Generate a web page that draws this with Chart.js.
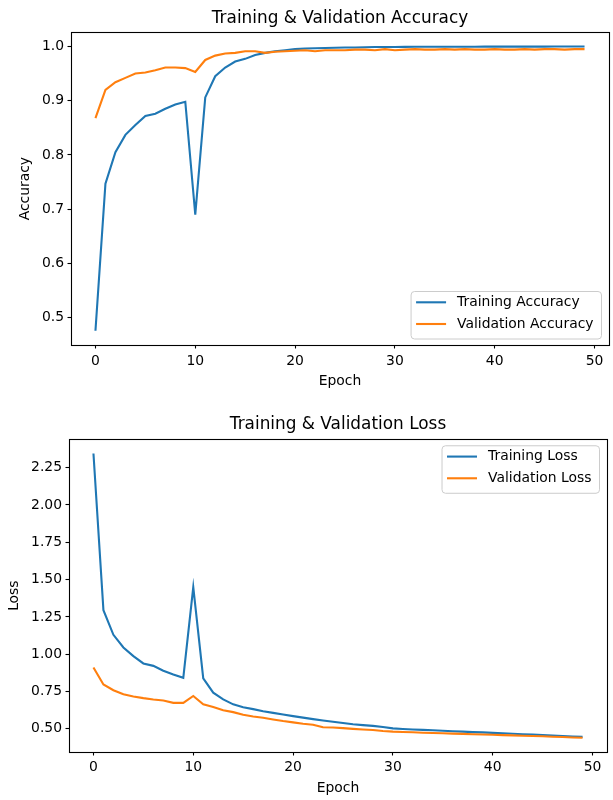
<!DOCTYPE html>
<html><head><meta charset="utf-8">
<script src="https://cdn.jsdelivr.net/npm/chart.js@4.4.1/dist/chart.umd.min.js"></script>
<style>
html,body{margin:0;padding:0;background:#fff;}
#wrap{position:relative;width:613px;height:800px;background:#fff;}
.box{position:absolute;left:0;width:613px;height:400px;}
canvas{display:block;}
</style></head><body>
<div id="wrap">
<div class="box" style="top:0"><canvas id="c1" width="613" height="400"></canvas></div>
<div class="box" style="top:400px"><canvas id="c2" width="613" height="400"></canvas></div>
</div>
<script>
// ---- data ----
const epochs = [0,1,2,3,4,5,6,7,8,9,10,11,12,13,14,15,16,17,18,19,20,21,22,23,24,25,26,27,28,29,30,31,32,33,34,35,36,37,38,39,40,41,42,43,44,45,46,47,48,49];
const trainAcc = [0.476,0.747,0.805,0.837,0.855,0.872,0.876,0.885,0.893,0.898,0.690,0.906,0.945,0.961,0.972,0.977,0.984,0.988,0.991,0.993,0.995,0.996,0.9965,0.997,0.9975,0.998,0.998,0.9985,0.9988,0.999,0.999,0.9991,0.9992,0.9992,0.9993,0.9993,0.9994,0.9994,0.9994,0.9995,0.9995,0.9995,0.9996,0.9996,0.9996,0.9996,0.9997,0.9997,0.9997,0.9998];
const valAcc = [0.868,0.920,0.934,0.942,0.950,0.952,0.956,0.961,0.961,0.960,0.953,0.975,0.983,0.987,0.988,0.991,0.991,0.988,0.990,0.991,0.992,0.993,0.991,0.993,0.993,0.993,0.994,0.994,0.993,0.995,0.993,0.994,0.995,0.994,0.994,0.995,0.994,0.995,0.994,0.994,0.995,0.994,0.994,0.995,0.994,0.995,0.995,0.994,0.995,0.995];
const trainLoss = [2.345,1.295,1.130,1.045,0.987,0.938,0.922,0.889,0.864,0.842,1.450,0.838,0.742,0.697,0.664,0.645,0.632,0.618,0.607,0.596,0.585,0.575,0.565,0.556,0.547,0.539,0.531,0.525,0.520,0.512,0.503,0.499,0.496,0.493,0.490,0.487,0.484,0.481,0.478,0.476,0.473,0.470,0.467,0.464,0.461,0.458,0.455,0.452,0.449,0.446];
const valLoss = [0.911,0.797,0.759,0.732,0.717,0.706,0.697,0.690,0.674,0.674,0.720,0.665,0.647,0.625,0.612,0.594,0.583,0.574,0.563,0.552,0.543,0.534,0.527,0.511,0.509,0.505,0.500,0.496,0.492,0.485,0.481,0.479,0.477,0.474,0.472,0.470,0.468,0.466,0.464,0.462,0.460,0.458,0.456,0.454,0.452,0.450,0.447,0.445,0.442,0.440];
const xTicks = [0,10,20,30,40,50];
const accTicks = [0.5,0.6,0.7,0.8,0.9,1.0];
const lossTicks = [0.5,0.75,1.0,1.25,1.5,1.75,2.0,2.25];

const BLUE = '#1f77b4', ORANGE = '#ff7f0e';
const FAM = '"DejaVu Sans", sans-serif';
const FS = 13.9;
Chart.defaults.font.family = FAM;

function margin(arrs){
  const all = [].concat(...arrs);
  const mn = Math.min(...all), mx = Math.max(...all);
  const m = (mx - mn) * 0.05;
  return [mn - m, mx + m];
}
const xr = margin([epochs]);

const frame = {
  id:'frame',
  afterDatasetsDraw(chart){
    const {ctx, chartArea:ca} = chart;
    ctx.save();
    ctx.strokeStyle = '#000';
    ctx.lineWidth = 1.1;
    ctx.strokeRect(Math.round(ca.left)+0.5, Math.round(ca.top)+0.5, Math.round(ca.right-ca.left), Math.round(ca.bottom-ca.top));
    ctx.restore();
  }
};

const mplLegend = {
  id:'mplLegend',
  afterDraw(chart, args, opts){
    const {ctx, chartArea:ca} = chart;
    ctx.save();
    ctx.font = FS + 'px ' + FAM;
    const items = chart.data.datasets.map(d => ({label:d.label, color:d.borderColor}));
    const tw = Math.max(...items.map(i => ctx.measureText(i.label).width));
    const w = 5 + 30 + 11 + tw + 8;
    const h = 47.5;
    const x = ca.right - 7.5 - w;
    const y = opts.corner === 'lower' ? ca.bottom - 6 - h : ca.top + 6.5;
    ctx.beginPath();
    ctx.roundRect(x, y, w, h, 3.5);
    ctx.fillStyle = 'rgba(255,255,255,0.8)';
    ctx.fill();
    ctx.strokeStyle = '#cccccc';
    ctx.lineWidth = 1;
    ctx.stroke();
    items.forEach((it, i) => {
      const ly = y + 10.8 + i * 21.7;
      ctx.beginPath();
      ctx.moveTo(x + 5, ly);
      ctx.lineTo(x + 35, ly);
      ctx.strokeStyle = it.color;
      ctx.lineWidth = 2.1;
      ctx.stroke();
      ctx.fillStyle = '#000';
      ctx.textBaseline = 'middle';
      ctx.textAlign = 'left';
      ctx.fillText(it.label, x + 46, ly);
    });
    ctx.restore();
  }
};

function makeChart(id, g){
  const yr = margin(g.series.map(s => s.data));
  const font = {family: FAM, size: FS};
  return new Chart(document.getElementById(id), {
    type:'line',
    data:{
      datasets: g.series.map((s, k) => ({
        label: s.label,
        data: epochs.map((e, i) => ({x:e, y:s.data[i]})),
        borderColor: s.color,
        backgroundColor: s.color,
        borderWidth: 2.1,
        pointRadius: 0,
        tension: 0,
        fill: false,
        order: g.series.length - k
      }))
    },
    options:{
      responsive:false,
      animation:false,
      events:[],
      layout:{padding:{left:0, right:g.padRight, top:0, bottom:0}},
      plugins:{
        legend:{display:false},
        tooltip:{enabled:false},
        mplLegend:{corner:g.legendCorner},
        title:{
          display:true, text:g.title, color:'#000', fullSize:false,
          font:{family:FAM, size:16.9, weight:'normal', lineHeight:1.2},
          padding:{top:g.titleTop, bottom:g.titleBottom}
        }
      },
      scales:{
        x:{
          type:'linear', min:xr[0], max:xr[1],
          afterBuildTicks: s => { s.ticks = xTicks.map(v => ({value:v})); },
          afterFit: s => { s.height = g.xAxisH; },
          ticks:{font, color:'#000', padding:g.xTickPad, maxRotation:0, autoSkip:false, callback: v => String(v)},
          grid:{drawOnChartArea:false, drawTicks:true, tickLength:3.5, tickColor:'#000', tickWidth:1.1},
          border:{display:false},
          title:{display:true, text:'Epoch', color:'#000', font, padding:{top:0, bottom:g.xTitleBottom}}
        },
        y:{
          type:'linear', min:yr[0], max:yr[1],
          afterBuildTicks: s => { s.ticks = g.yTicks.map(v => ({value:v})); },
          afterFit: s => { s.width = g.yAxisW; },
          ticks:{font, color:'#000', padding:3.5, autoSkip:false, callback: v => v.toFixed(g.dec)},
          grid:{drawOnChartArea:false, drawTicks:true, tickLength:3.5, tickColor:'#000', tickWidth:1.1},
          border:{display:false},
          title:{display:true, text:g.ylabel, color:'#000', font, padding:{top:g.yTitleTop, bottom:0}}
        }
      }
    },
    plugins:[frame, mplLegend]
  });
}

makeChart('c1', {
  title:'Training & Validation Accuracy', ylabel:'Accuracy',
  series:[{label:'Training Accuracy', data:trainAcc, color:BLUE},{label:'Validation Accuracy', data:valAcc, color:ORANGE}],
  yTicks:accTicks, dec:1, legendCorner:'lower',
  padRight:4, titleTop:8, titleBottom:4, xAxisH:55, xTickPad:4.5, yAxisW:71, xTitleBottom:10.2, yTitleTop:16.7
});
makeChart('c2', {
  title:'Training & Validation Loss', ylabel:'Loss',
  series:[{label:'Training Loss', data:trainLoss, color:BLUE},{label:'Validation Loss', data:valLoss, color:ORANGE}],
  yTicks:lossTicks, dec:2, legendCorner:'upper',
  padRight:6, titleTop:14.9, titleBottom:4.1, xAxisH:48, xTickPad:3.5, yAxisW:69, xTitleBottom:3.7, yTitleTop:5.7
});
</script>
</body></html>
